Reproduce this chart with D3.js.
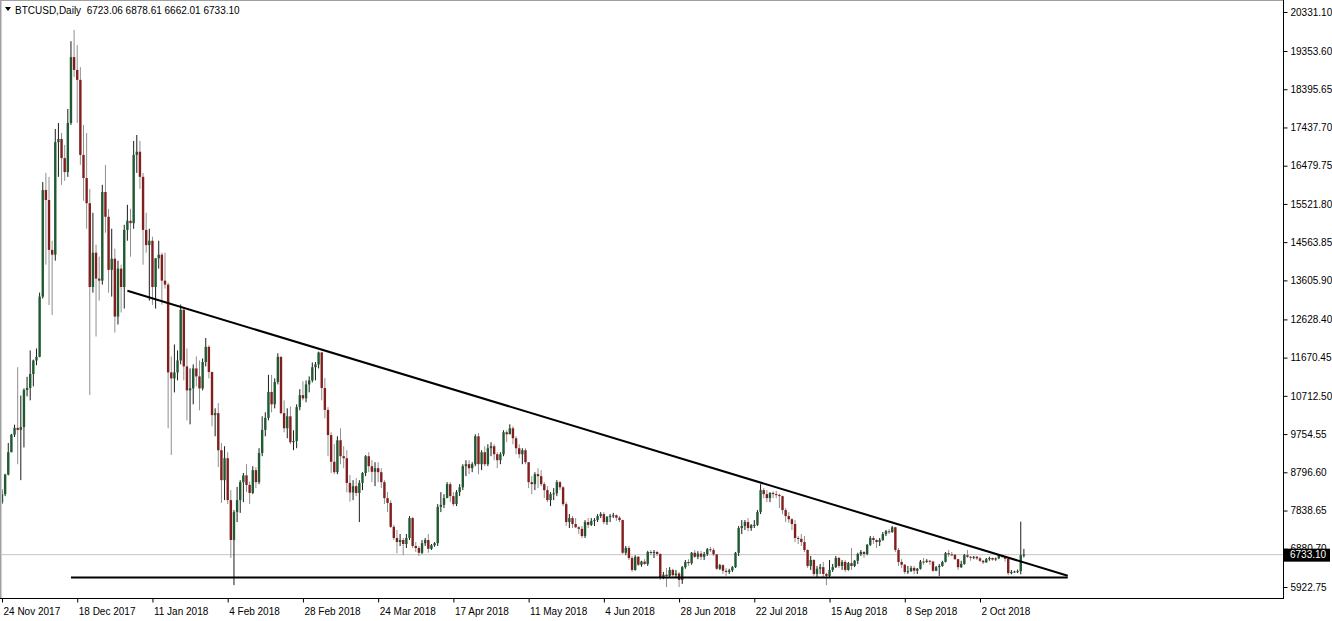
<!DOCTYPE html>
<html>
<head>
<meta charset="utf-8">
<script src="https://cdn.jsdelivr.net/npm/d3@7"></script>
<style>
  body { margin: 0; background: #fff; }
  svg { display: block; font-family: "Liberation Sans", Arial, sans-serif; }
</style>
</head>
<body>
<svg id="chart" width="1332" height="621"></svg>
<script>
// BTCUSD daily candles, [open, high, low, close]
const nov2017 = [
  [8040, 8370, 8000, 8250], [8250, 8760, 8200, 8740], [8740, 9530, 8720, 9300], [9300, 9760, 9300, 9740],
  [9740, 9990, 9680, 9910], [9910, 11430, 9000, 9860], [9860, 10720, 8600, 9930]
];
const dec2017 = [
  [9930, 10900, 9420, 10860], [10860, 11190, 10700, 10910], [10910, 11850, 10600, 11260], [11260, 11620, 10950, 11600],
  [11600, 11900, 11480, 11690], [11690, 13300, 11680, 13200], [13200, 16070, 13150, 15870], [15870, 16300, 14000, 15620],
  [15620, 16200, 12990, 14370], [14370, 14600, 12740, 14250], [14250, 17400, 14100, 17070], [17070, 17550, 16200, 17150],
  [17150, 17300, 16000, 16670], [16670, 17000, 16100, 16320], [16320, 17900, 16200, 17550], [17550, 19600, 17500, 19200],
  [19200, 19880, 18700, 18880], [18880, 19500, 17550, 18630], [18630, 18950, 16500, 16750], [16750, 17500, 15600, 16170],
  [16170, 17300, 14900, 15540], [15540, 15900, 10730, 13440], [13440, 15300, 13300, 14300], [14300, 14500, 12200, 13650],
  [13650, 14200, 13100, 13600], [13600, 16000, 13500, 15820], [15820, 16500, 14800, 15200], [15200, 15400, 13300, 13870],
  [13870, 14900, 13200, 14150], [14150, 14400, 12300, 12700], [12700, 14100, 12500, 13900]
];
const jan2018 = [
  [13900, 14000, 12800, 13440], [13440, 15000, 12900, 14870], [14870, 15500, 14600, 15100], [15100, 15400, 14200, 15040],
  [15040, 17100, 14900, 16750], [16750, 17250, 16300, 16830], [16830, 17100, 15900, 16200], [16200, 16300, 14000, 14870],
  [14870, 15300, 14300, 14490], [14490, 14900, 13100, 14600], [14600, 14700, 12990, 13440], [13440, 14160, 12900, 14160],
  [14160, 14600, 13900, 14250], [14250, 14300, 13000, 13600], [13600, 14300, 13400, 13500], [13500, 13550, 9900, 11300],
  [11300, 11700, 9230, 11150], [11150, 12000, 10800, 11300], [11300, 11850, 11100, 11600], [11600, 13000, 11500, 12870],
  [12870, 12900, 11100, 11450], [11450, 11900, 10100, 10850], [10850, 11400, 10000, 10900], [10900, 11500, 10500, 11400],
  [11400, 11700, 10950, 11200], [11200, 11600, 10350, 10900], [10900, 11650, 10850, 11560], [11560, 12160, 11450, 11940],
  [11940, 11980, 11150, 11310], [11310, 11320, 9950, 10230], [10230, 10400, 9700, 10280]
];
const feb2018 = [
  [10280, 10530, 8930, 9350], [9350, 9530, 8030, 8600], [8600, 9450, 8100, 9150], [9150, 9300, 8000, 8100],
  [8100, 8350, 6650, 7100], [7100, 7850, 5970, 7800], [7800, 8430, 7550, 8100], [8100, 8600, 7780, 8550],
  [8550, 8780, 8050, 8720], [8720, 9000, 8300, 8480], [8480, 8560, 8000, 8280], [8280, 8950, 8250, 8850],
  [8850, 8930, 8400, 8550], [8550, 9400, 8500, 9280], [9280, 10200, 9200, 9860], [9860, 10300, 9700, 10160],
  [10160, 11240, 10100, 10810], [10810, 11240, 10300, 10500], [10500, 11150, 10400, 11060], [11060, 11780, 11000, 11690],
  [11690, 11700, 10250, 10280], [10280, 10600, 9800, 9900], [9900, 10400, 9650, 10200], [10200, 10450, 9500, 9550],
  [9550, 9850, 9350, 9580], [9580, 10500, 9400, 10430], [10430, 10880, 10350, 10730], [10730, 11080, 10600, 10650]
];
const mar2018 = [
  [10650, 11100, 10550, 11000], [11000, 11200, 10800, 11100], [11100, 11550, 11050, 11430], [11430, 11560, 11100, 11500],
  [11500, 11820, 11400, 11800], [11800, 11810, 10600, 10910], [10910, 11160, 10150, 10360], [10360, 10430, 9200, 9730],
  [9730, 9800, 8780, 9060], [9060, 9500, 8750, 8800], [8800, 9700, 8750, 9600], [9600, 9900, 9000, 9200],
  [9200, 9450, 8900, 9150], [9150, 9350, 8300, 8530], [8530, 8730, 8060, 8290], [8290, 8600, 8100, 8450],
  [8450, 8650, 8200, 8280], [8280, 8600, 7550, 8530], [8530, 8800, 8350, 8780], [8780, 9230, 8700, 9200],
  [9200, 9300, 8800, 8950], [8950, 9100, 8550, 8810], [8810, 9050, 8450, 8900], [8900, 9050, 8550, 8800],
  [8800, 8900, 8400, 8550], [8550, 8600, 8000, 8150], [8150, 8300, 7800, 8030], [8030, 8100, 7400, 7430],
  [7430, 7480, 7100, 7150], [7150, 7350, 6770, 7050], [7050, 7250, 6950, 7100]
];
const apr2018 = [
  [7100, 7150, 6720, 7000], [7000, 7250, 6900, 7150], [7150, 7700, 7100, 7650], [7650, 7680, 6900, 6950],
  [6950, 7050, 6800, 6900], [6900, 6950, 6700, 6780], [6780, 7100, 6750, 7020], [7020, 7150, 6950, 7100],
  [7100, 7250, 6780, 6880], [6880, 7000, 6850, 6970], [6970, 7050, 6930, 7020], [7020, 8000, 6950, 7930],
  [7930, 8300, 7800, 7980], [7980, 8250, 7900, 8150], [8150, 8550, 8150, 8500], [8500, 8550, 8050, 8200],
  [8200, 8300, 7950, 8000], [8000, 8350, 7950, 8300], [8300, 8500, 8200, 8420], [8420, 9000, 8350, 8950],
  [8950, 9100, 8700, 9000], [9000, 9100, 8750, 8900], [8900, 9050, 8800, 9000], [9000, 9750, 8950, 9700],
  [9700, 9780, 8750, 9000], [9000, 9350, 8850, 9300], [9300, 9450, 8950, 9000], [9000, 9500, 8950, 9400],
  [9400, 9550, 9200, 9450], [9450, 9500, 9100, 9250]
];
const may2018 = [
  [9250, 9300, 8900, 9100], [9100, 9300, 9000, 9250], [9250, 9850, 9200, 9800], [9800, 9850, 9550, 9750],
  [9750, 10000, 9750, 9900], [9900, 9950, 9500, 9650], [9650, 9700, 9250, 9400], [9400, 9500, 9150, 9250],
  [9250, 9400, 9000, 9350], [9350, 9400, 9000, 9050], [9050, 9050, 8400, 8550], [8550, 8700, 8250, 8500],
  [8500, 8800, 8350, 8750], [8750, 8900, 8400, 8700], [8700, 8850, 8450, 8500], [8500, 8550, 8150, 8350],
  [8350, 8450, 8050, 8100], [8100, 8300, 7950, 8250], [8250, 8400, 8100, 8270], [8270, 8600, 8200, 8550],
  [8550, 8580, 8350, 8420], [8420, 8450, 7950, 8000], [8000, 8050, 7450, 7550], [7550, 7750, 7400, 7650],
  [7650, 7700, 7400, 7500], [7500, 7650, 7400, 7420], [7420, 7450, 7250, 7380], [7380, 7450, 7150, 7200],
  [7200, 7600, 7150, 7550], [7550, 7650, 7400, 7480], [7480, 7650, 7450, 7580]
];
const jun2018 = [
  [7580, 7650, 7450, 7600], [7600, 7750, 7550, 7700], [7700, 7800, 7650, 7750], [7750, 7800, 7500, 7550],
  [7550, 7700, 7480, 7680], [7680, 7750, 7550, 7700], [7700, 7780, 7650, 7720], [7720, 7740, 7580, 7660],
  [7660, 7700, 7550, 7600], [7600, 7610, 6750, 6780], [6780, 6950, 6720, 6900], [6900, 6950, 6600, 6650],
  [6650, 6700, 6300, 6350], [6350, 6720, 6330, 6680], [6680, 6700, 6450, 6480], [6480, 6580, 6430, 6560],
  [6560, 6620, 6480, 6500], [6500, 6830, 6450, 6800], [6800, 6850, 6720, 6780], [6780, 6850, 6650, 6800],
  [6800, 6830, 6700, 6750], [6750, 6770, 6100, 6170], [6170, 6300, 6120, 6230], [6230, 6400, 5920, 6200],
  [6200, 6420, 6150, 6350], [6350, 6380, 6180, 6220], [6220, 6350, 6150, 6260], [6260, 6300, 5920, 6100],
  [6100, 6450, 6000, 6420], [6420, 6600, 6380, 6550]
];
const jul2018 = [
  [6550, 6620, 6450, 6520], [6520, 6800, 6480, 6780], [6780, 6850, 6650, 6680], [6680, 6820, 6620, 6760],
  [6760, 6830, 6600, 6680], [6680, 6800, 6600, 6750], [6750, 6900, 6700, 6870], [6870, 6930, 6800, 6850],
  [6850, 6900, 6700, 6740], [6740, 6750, 6350, 6380], [6380, 6500, 6350, 6470], [6470, 6490, 6250, 6330],
  [6330, 6400, 6200, 6300], [6300, 6380, 6250, 6340], [6340, 6450, 6300, 6420], [6420, 6800, 6400, 6780],
  [6780, 7450, 6700, 7400], [7400, 7600, 7250, 7450], [7450, 7600, 7350, 7550], [7550, 7650, 7320, 7400],
  [7400, 7500, 7330, 7470], [7470, 7600, 7400, 7480], [7480, 7850, 7450, 7800], [7800, 8500, 7750, 8350],
  [8350, 8400, 8150, 8250], [8250, 8350, 8050, 8150], [8150, 8300, 8050, 8280], [8280, 8320, 8150, 8250],
  [8250, 8330, 8150, 8230], [8230, 8260, 7900, 8200], [8200, 8210, 7750, 7850]
];
const aug2018 = [
  [7850, 7900, 7550, 7700], [7700, 7800, 7530, 7620], [7620, 7650, 7350, 7500], [7500, 7600, 7050, 7150],
  [7150, 7200, 7000, 7130], [7130, 7250, 6950, 7050], [7050, 7200, 6800, 6850], [6850, 6870, 6400, 6450],
  [6450, 6700, 6350, 6600], [6600, 6620, 6200, 6250], [6250, 6450, 6150, 6380], [6380, 6500, 6250, 6420],
  [6420, 6550, 6150, 6250], [6250, 6280, 5970, 6200], [6200, 6600, 6150, 6350], [6350, 6500, 6300, 6420],
  [6420, 6700, 6400, 6650], [6650, 6680, 6400, 6450], [6450, 6600, 6350, 6550], [6550, 6600, 6300, 6350],
  [6350, 6550, 6330, 6520], [6520, 6900, 6350, 6450], [6450, 6600, 6420, 6580], [6580, 6780, 6500, 6750],
  [6750, 6850, 6700, 6800], [6800, 6820, 6650, 6750], [6750, 7000, 6720, 6980], [6980, 7200, 6950, 7150],
  [7150, 7200, 7000, 7100], [7100, 7120, 6900, 7050], [7050, 7150, 6950, 7100]
];
const sep2018 = [
  [7100, 7300, 7080, 7250], [7250, 7350, 7200, 7320], [7320, 7380, 7250, 7300], [7300, 7450, 7280, 7420],
  [7420, 7430, 6800, 6850], [6850, 6900, 6450, 6550], [6550, 6620, 6400, 6480], [6480, 6500, 6250, 6300],
  [6300, 6450, 6250, 6320], [6320, 6450, 6300, 6400], [6400, 6450, 6250, 6330], [6330, 6400, 6250, 6380],
  [6380, 6600, 6360, 6560], [6560, 6650, 6480, 6550], [6550, 6620, 6530, 6580], [6580, 6600, 6480, 6560],
  [6560, 6580, 6300, 6330], [6330, 6450, 6320, 6420], [6420, 6500, 6200, 6450], [6450, 6580, 6430, 6550],
  [6550, 6800, 6540, 6770], [6770, 6850, 6680, 6740], [6740, 6800, 6700, 6730], [6730, 6750, 6600, 6620],
  [6620, 6630, 6350, 6420], [6420, 6580, 6400, 6500], [6500, 6750, 6480, 6720], [6720, 6850, 6650, 6680],
  [6680, 6700, 6580, 6660], [6660, 6700, 6620, 6680]
];
const oct2018 = [
  [6680, 6700, 6600, 6640], [6640, 6680, 6550, 6580], [6580, 6600, 6500, 6540], [6540, 6650, 6530, 6620],
  [6620, 6680, 6580, 6650], [6650, 6660, 6580, 6610], [6610, 6660, 6580, 6640], [6640, 6750, 6620, 6720],
  [6720, 6730, 6650, 6690], [6690, 6700, 6560, 6630], [6630, 6640, 6220, 6270], [6270, 6350, 6240, 6300],
  [6300, 6330, 6280, 6310], [6310, 6360, 6270, 6320], [6320, 7560, 6240, 6720], [6723.06, 6878.61, 6662.01, 6733.10]
];
const firstDay = "2017-11-24";

const priceTicks = [20331.10, 19353.60, 18395.65, 17437.70, 16479.75, 15521.80, 14563.85, 13605.90,
  12628.40, 11670.45, 10712.50, 9754.55, 8796.60, 7838.65, 6880.70, 5922.75];
const dateTicks = ["2017-11-24", "2017-12-18", "2018-01-11", "2018-02-04", "2018-02-28", "2018-03-24",
  "2018-04-17", "2018-05-11", "2018-06-04", "2018-06-28", "2018-07-22", "2018-08-15", "2018-09-08", "2018-10-02"];

// drawn objects: horizontal support and falling trend line, [date, price]
const supportLine = [["2017-12-16", 6161], ["2018-10-30", 6161]];
const trendLine = [["2018-01-03", 13347], ["2018-10-30", 6206]];

const symbol = "BTCUSD,Daily";
const lastPrice = 6733.10;

const parse = d3.utcParse("%Y-%m-%d");
const rows = [].concat(nov2017, dec2017, jan2018, feb2018, mar2018, apr2018, may2018, jun2018, jul2018, aug2018, sep2018, oct2018);
const start = parse(firstDay);
const candles = rows.map((r, i) => ({ date: d3.utcDay.offset(start, i), o: r[0], h: r[1], l: r[2], c: r[3] }));
const last = candles[candles.length - 1];

const svg = d3.select("#chart");
const plotRight = 1283, plotBottom = 598;

const x = d3.scaleUtc().domain([parse("2017-11-24"), parse("2018-10-02")]).range([2, 980]);
const y = d3.scaleLinear().domain([5922.75, 20331.10]).range([587, 12]);

svg.append("defs").append("clipPath").attr("id", "plot")
  .append("rect").attr("x", 2).attr("y", 1).attr("width", plotRight - 2).attr("height", plotBottom - 1);

// bid line
svg.append("line")
  .attr("x1", 2).attr("x2", plotRight)
  .attr("y1", y(lastPrice)).attr("y2", y(lastPrice))
  .attr("stroke", "#c4c4c4").attr("stroke-width", 1);

const gc = svg.append("g").attr("clip-path", "url(#plot)");

const bullBody = "#1f5a32", bearBody = "#821e1e";
const bullWick = "#1c1c1c", bearWick = "#8f8f8f";

gc.selectAll(".wick")
  .data(candles)
  .enter()
  .append("line")
  .attr("x1", d => x(d.date)).attr("x2", d => x(d.date))
  .attr("y1", d => y(d.h)).attr("y2", d => y(d.l))
  .attr("stroke", d => d.c >= d.o ? bullWick : bearWick)
  .attr("stroke-width", 1);

gc.selectAll(".body")
  .data(candles)
  .enter()
  .append("rect")
  .attr("x", d => x(d.date) - 1.2)
  .attr("width", 2.4)
  .attr("y", d => y(Math.max(d.o, d.c)))
  .attr("height", d => Math.max(1, Math.abs(y(d.o) - y(d.c))))
  .attr("fill", d => d.c >= d.o ? bullBody : bearBody);

// trend lines
const line = d3.line().x(d => x(parse(d[0]))).y(d => y(d[1]));
[supportLine, trendLine].forEach(pts => {
  svg.append("path")
    .attr("d", line(pts))
    .attr("fill", "none")
    .attr("stroke", "#000")
    .attr("stroke-width", 2);
});

// frame
svg.append("line").attr("x1", 0.5).attr("x2", 0.5).attr("y1", 0).attr("y2", plotBottom).attr("stroke", "#a0a0a0");
svg.append("line").attr("x1", 1.5).attr("x2", 1.5).attr("y1", 0).attr("y2", plotBottom).attr("stroke", "#d0d0d0");
svg.append("line").attr("x1", 0).attr("x2", plotRight).attr("y1", 0.5).attr("y2", 0.5).attr("stroke", "#a0a0a0");
svg.append("line").attr("x1", plotRight + 0.5).attr("x2", plotRight + 0.5).attr("y1", 0).attr("y2", plotBottom + 1).attr("stroke", "#000");
svg.append("line").attr("x1", 0).attr("x2", plotRight + 1).attr("y1", plotBottom + 0.5).attr("y2", plotBottom + 0.5).attr("stroke", "#000");

// price axis
const yAxis = svg.append("g")
  .attr("transform", `translate(${plotRight + 0.5},0)`)
  .call(d3.axisRight(y).tickValues(priceTicks).tickFormat(d => d.toFixed(2)).tickSize(4).tickPadding(3));
yAxis.select(".domain").remove();
yAxis.selectAll("text").attr("font-family", "Liberation Sans, Arial, sans-serif").attr("font-size", 10).attr("fill", "#000");

// date axis
const xAxis = svg.append("g")
  .attr("transform", `translate(0,${plotBottom + 0.5})`)
  .call(d3.axisBottom(x).tickValues(dateTicks.map(parse)).tickFormat(d3.utcFormat("%-d %b %Y")).tickSize(4).tickPadding(5));
xAxis.select(".domain").remove();
xAxis.selectAll("text")
  .attr("text-anchor", "start").attr("dx", 1)
  .attr("font-family", "Liberation Sans, Arial, sans-serif").attr("font-size", 10).attr("fill", "#000");

// last price label
const ly = y(lastPrice);
svg.append("rect").attr("x", plotRight + 1).attr("y", ly - 6).attr("width", 46).attr("height", 13).attr("fill", "#000");
svg.append("text")
  .attr("x", plotRight + 7).attr("y", ly + 3.6)
  .attr("font-size", 10).attr("fill", "#fff")
  .text(lastPrice.toFixed(2));

// title
svg.append("path").attr("d", "M5,7 L11,7 L8,11 Z").attr("fill", "#000");
svg.append("text")
  .attr("x", 15).attr("y", 13.5)
  .attr("font-size", 10).attr("fill", "#000")
  .attr("xml:space", "preserve")
  .style("white-space", "pre")
  .text(`${symbol}  ${[last.o, last.h, last.l, last.c].map(v => v.toFixed(2)).join(" ")}`);
</script>
</body>
</html>
